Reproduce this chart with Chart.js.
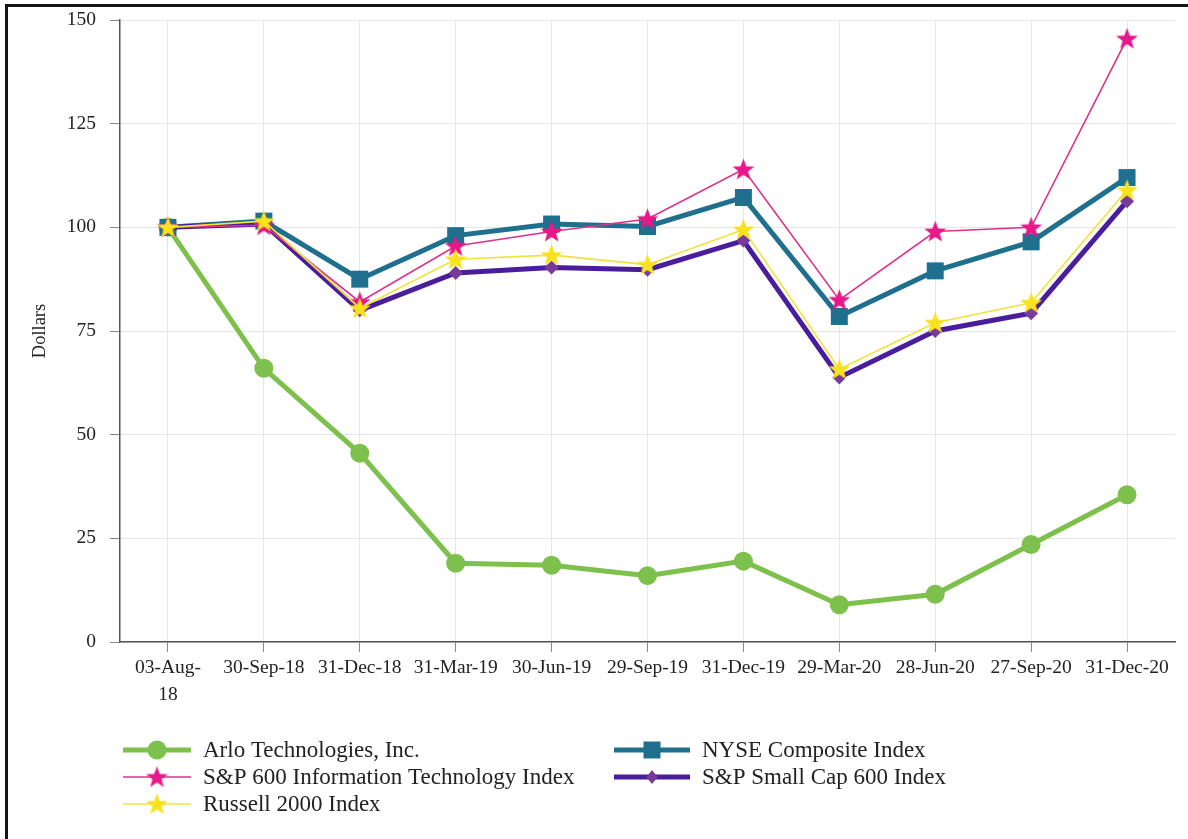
<!DOCTYPE html>
<html>
<head>
<meta charset="utf-8">
<title>Arlo Technologies - cumulative total return</title>
<script src="https://cdn.jsdelivr.net/npm/chart.js@4.4.1/dist/chart.umd.min.js"></script>
<style>
  html, body { margin: 0; padding: 0; background: #fff; }
  #wrap { position: relative; width: 1188px; height: 839px; overflow: hidden; }
  #chart { position: absolute; left: 0; top: 0; }
  #frame {
    position: absolute; left: 5px; top: 4px; right: -10px; bottom: -10px;
    border-top: 3px solid #151515; border-left: 3px solid #151515;
    pointer-events: none;
  }
</style>
</head>
<body>
<div id="wrap">
  <canvas id="chart" width="1188" height="839"></canvas>
  <div id="frame"></div>
</div>
<script>
// Values
const labels = [['03-Aug-', '18'], '30-Sep-18', '31-Dec-18', '31-Mar-19', '30-Jun-19',
    '29-Sep-19', '31-Dec-19', '29-Mar-20', '28-Jun-20', '27-Sep-20', '31-Dec-20'];

const arloValues     = [100, 66, 45.5, 19, 18.5, 16, 19.5, 9, 11.5, 23.5, 35.5];
const nyseValues     = [100, 101.5, 87.5, 98, 100.8, 100.2, 107.2, 78.5, 89.5, 96.5, 112];
const spItValues     = [100, 100.5, 82, 95.5, 99, 102, 114, 82.5, 99, 100, 145.5];
const smallCapValues = [100, 100.8, 80, 89, 90.3, 89.8, 96.8, 63.8, 75, 79.3, 106.3];
const russellValues  = [100, 101.5, 80.5, 92.3, 93.3, 91, 99.5, 65.8, 77, 81.8, 109];

const yTicks = [0, 25, 50, 75, 100, 125, 150];

const FONT = "'Liberation Serif', 'Times New Roman', serif";
const TEXT = '#222';

// filled five point star used as a marker
function makeStar(color, outer, inner) {
    const size = Math.ceil(outer * 2 + 2);
    const c = document.createElement('canvas');
    c.width = size;
    c.height = size;
    const ctx = c.getContext('2d');
    const cx = size / 2, cy = size / 2 + 0.8;
    ctx.beginPath();
    for (let i = 0; i < 10; i++) {
        const r = i % 2 === 0 ? outer : inner;
        const a = -Math.PI / 2 + i * Math.PI / 5;
        const px = cx + r * Math.cos(a);
        const py = cy + r * Math.sin(a);
        if (i === 0) ctx.moveTo(px, py); else ctx.lineTo(px, py);
    }
    ctx.closePath();
    ctx.fillStyle = color;
    ctx.fill();
    return c;
}

const pinkStar = makeStar('#e8178a', 11.5, 4.8);
const yellowStar = makeStar('#f8e21c', 11.5, 4.8);

const arlo = {
    label: 'Arlo Technologies, Inc.',
    data: arloValues,
    borderColor: '#7dc04c', backgroundColor: '#7dc04c',
    borderWidth: 5, pointStyle: 'circle', pointRadius: 9.5, pointBorderWidth: 0,
    order: 4
};
const nyse = {
    label: 'NYSE Composite Index',
    data: nyseValues,
    borderColor: '#1f6f8e', backgroundColor: '#1f6f8e',
    borderWidth: 5, pointStyle: 'rect', pointRadius: 12, pointBorderWidth: 0,
    order: 3
};
const spIt = {
    label: 'S&P 600 Information Technology Index',
    data: spItValues,
    borderColor: '#e0308a', backgroundColor: '#e8178a',
    borderWidth: 1.6, pointStyle: pinkStar, pointRadius: 11, pointBorderWidth: 0,
    order: 1
};
const smallCap = {
    label: 'S&P Small Cap 600 Index',
    data: smallCapValues,
    borderColor: '#4a1d9c', backgroundColor: '#7a3a9c',
    borderWidth: 5, pointStyle: 'rectRot', pointRadius: 7, pointBorderWidth: 0,
    order: 2
};
const russell = {
    label: 'Russell 2000 Index',
    data: russellValues,
    borderColor: '#f2e23a', backgroundColor: '#f8e21c',
    borderWidth: 1.6, pointStyle: yellowStar, pointRadius: 11, pointBorderWidth: 0,
    order: 0
};

// draw one marker for the legend
function drawMarker(ctx, ds, x, y) {
    ctx.save();
    ctx.fillStyle = ds.backgroundColor;
    const r = ds.pointRadius;
    if (ds.pointStyle instanceof HTMLCanvasElement) {
        ctx.drawImage(ds.pointStyle, x - ds.pointStyle.width / 2, y - ds.pointStyle.height / 2);
    } else if (ds.pointStyle === 'circle') {
        ctx.beginPath();
        ctx.arc(x, y, r, 0, Math.PI * 2);
        ctx.fill();
    } else if (ds.pointStyle === 'rect') {
        const s = r * Math.SQRT1_2;
        ctx.fillRect(x - s, y - s, 2 * s, 2 * s);
    } else if (ds.pointStyle === 'rectRot') {
        ctx.beginPath();
        ctx.moveTo(x, y - r);
        ctx.lineTo(x + r * 0.8, y);
        ctx.lineTo(x, y + r);
        ctx.lineTo(x - r * 0.8, y);
        ctx.closePath();
        ctx.fill();
    }
    ctx.restore();
}

// two column legend under the plot
const legendPlugin = {
    id: 'twoColumnLegend',
    afterDraw(chart) {
        const ctx = chart.ctx;
        const entries = [
            { ds: arlo, x0: 123, x1: 191, y: 750 },
            { ds: spIt, x0: 123, x1: 191, y: 777 },
            { ds: russell, x0: 123, x1: 191, y: 804 },
            { ds: nyse, x0: 614, x1: 690, y: 750 },
            { ds: smallCap, x0: 614, x1: 690, y: 777 }
        ];
        ctx.save();
        entries.forEach(e => {
            ctx.strokeStyle = e.ds.borderColor;
            ctx.lineWidth = e.ds.borderWidth;
            ctx.beginPath();
            ctx.moveTo(e.x0, e.y);
            ctx.lineTo(e.x1, e.y);
            ctx.stroke();
            drawMarker(ctx, e.ds, (e.x0 + e.x1) / 2, e.y);
            ctx.fillStyle = TEXT;
            ctx.font = '23px ' + FONT;
            ctx.textBaseline = 'middle';
            ctx.textAlign = 'left';
            ctx.fillText(e.ds.label, e.x1 + 12, e.y + 1);
        });
        ctx.restore();
    }
};

new Chart(document.getElementById('chart').getContext('2d'), {
    type: 'line',
    data: {
        labels: labels,
        datasets: [arlo, nyse, spIt, smallCap, russell]
    },
    options: {
        responsive: false,
        animation: false,
        layout: { padding: { left: 29, right: 13, top: 20, bottom: 137 } },
        elements: { line: { tension: 0 } },
        plugins: {
            legend: { display: false },
            tooltip: { enabled: false }
        },
        scales: {
            x: {
                offset: true,
                grid: { color: '#e6e6e6', lineWidth: 1, tickLength: 10, tickColor: '#888' },
                border: { color: '#555', width: 1.5 },
                ticks: {
                    color: TEXT,
                    font: { family: FONT, size: 19.5, lineHeight: 1.4 },
                    maxRotation: 0, minRotation: 0, autoSkip: false, padding: 2
                },
                afterFit: (scale) => { scale.height = 60; }
            },
            y: {
                min: 0,
                max: 150,
                afterBuildTicks: (scale) => { scale.ticks = yTicks.map(v => ({ value: v })); },
                grid: { color: '#e6e6e6', lineWidth: 1, tickLength: 10, tickColor: '#888' },
                border: { color: '#555', width: 1.5 },
                ticks: {
                    color: TEXT,
                    font: { family: FONT, size: 19.5 },
                    padding: 14
                },
                title: {
                    display: true,
                    text: 'Dollars',
                    color: TEXT,
                    font: { family: FONT, size: 18.5 },
                    padding: 0
                },
                afterFit: (scale) => {
                    scale.width = 91;
                    scale.paddingTop = 0;
                    scale.paddingBottom = 0;
                }
            }
        }
    },
    plugins: [legendPlugin]
});
</script>
</body>
</html>
